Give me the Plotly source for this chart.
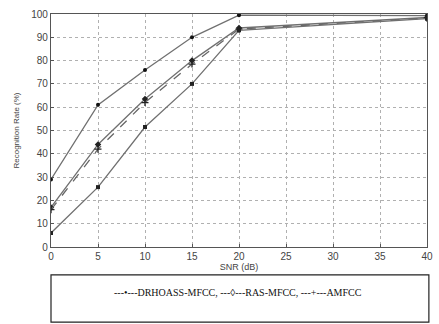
import plotly.graph_objects as go

snr = [0, 5, 10, 15, 20, 40]
drhoass = [29, 61, 76, 90, 99.5, 99.3]
ras = [17, 44, 63.5, 80, 94, 98.5]
amfcc = [16, 42, 62, 78.5, 93.5, 98.2]
mfcc = [6, 25.7, 51.5, 70, 93, 98]

x_ticks = [0, 5, 10, 15, 20, 25, 30, 35, 40]
y_ticks = [0, 10, 20, 30, 40, 50, 60, 70, 80, 90, 100]
legend_text = "---•---DRHOASS-MFCC, ---◊---RAS-MFCC, ---+---AMFCC"

fig = go.Figure()
line_c = "#707070"
fig.add_trace(go.Scatter(x=snr, y=drhoass, name="DRHOASS-MFCC", mode="lines+markers",
                         line=dict(color=line_c, width=1.3),
                         marker=dict(symbol="circle", size=4, color="#111")))
fig.add_trace(go.Scatter(x=snr, y=ras, name="RAS-MFCC", mode="lines+markers",
                         line=dict(color=line_c, width=1.3),
                         marker=dict(symbol="diamond", size=5, color="#222")))
fig.add_trace(go.Scatter(x=snr, y=amfcc, name="AMFCC", mode="lines+markers",
                         line=dict(color="#666", width=1.3, dash="dash"),
                         marker=dict(symbol="cross-thin", size=5, line=dict(color="#222", width=1.3))))
fig.add_trace(go.Scatter(x=snr, y=mfcc, name="MFCC", mode="lines+markers",
                         line=dict(color=line_c, width=1.3),
                         marker=dict(symbol="square", size=4, color="#222")))

axis_common = dict(showline=True, mirror=True, linecolor="#555", linewidth=1.2,
                   showgrid=True, gridcolor="#b0b0b0", griddash="dot", gridwidth=1,
                   ticks="inside", ticklen=3, tickcolor="#555", zeroline=False,
                   tickfont=dict(family="Arial, Liberation Sans", size=10, color="#444"))

fig.update_xaxes(range=[0, 40], tickvals=x_ticks,
                 title=dict(text="SNR (dB)", font=dict(family="Arial, Liberation Sans", size=9, color="#444"),
                            standoff=0), **axis_common)
fig.update_yaxes(range=[0, 100], tickvals=y_ticks,
                 title=dict(text="Recognition Rate (%)", font=dict(family="Arial, Liberation Sans", size=8, color="#444"),
                            standoff=10), **axis_common)

fig.add_shape(type="rect", xref="paper", yref="paper", x0=0, x1=1.005, y0=-0.322, y1=-0.12,
              line=dict(color="#222", width=1.2), fillcolor="white")
fig.add_annotation(xref="paper", yref="paper", x=0.497, y=-0.197, text=legend_text, showarrow=False,
                   font=dict(family="Liberation Serif, Times New Roman", size=10, color="#111"),
                   xanchor="center", yanchor="middle")

fig.update_layout(width=439, height=324, showlegend=False,
                  margin=dict(l=51, r=6, t=14, b=77),
                  plot_bgcolor="white", paper_bgcolor="white")

fig.write_html("out.html", config={"displayModeBar": False},
               post_script="document.body.style.margin='0';document.body.style.overflow='hidden';")
